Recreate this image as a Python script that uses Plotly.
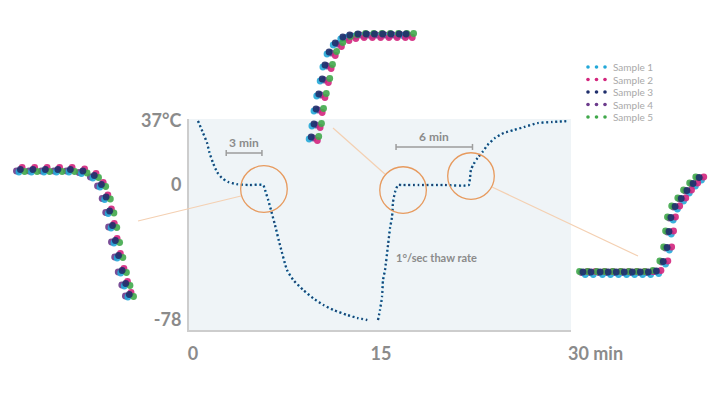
import plotly.graph_objects as go

W, H = 715, 394


def px(x):
    return x / W


def py(y):
    return 1 - y / H


# ---------------- data ----------------
samples = ["Sample 1", "Sample 2", "Sample 3", "Sample 4", "Sample 5"]
sample_colors = ["#23a8d8", "#d3257d", "#1f2f6c", "#6c3b8c", "#40a84b"]

# main curve: freezing phase (time in min, temperature in °C)
cool_t = [0.4, 0.8, 1.12, 1.3, 1.6, 1.92, 2.3, 2.8, 3.5, 4.5, 5.6, 5.75, 6.0, 6.22,
          6.54, 6.94, 7.5, 8.0, 8.8, 9.6, 10.4, 11.2, 12.3, 13.1, 13.9]
cool_T = [37, 30.1, 24.3, 19, 12.7, 7.5, 4.1, 1.8, 0.5, 0, 0, -2.9, -8.7, -14.4,
          -23.1, -34.7, -49.1, -54.9, -60.7, -65.5, -69.3, -72.2, -75.1, -76.8, -78]

# main curve: thawing phase
thaw_t = [14.76, 14.92, 15.08, 15.16, 15.32, 15.56, 15.72, 15.88, 15.96, 16.12, 16.36,
          16.68, 18, 20, 22.0, 22.1, 22.18, 22.4, 22.7, 23.1, 23.5, 24.1, 24.8, 25.6,
          26.4, 27.5, 28.6, 30.0]
thaw_T = [-78, -72.2, -64.7, -54.9, -49.1, -34.7, -24.8, -18.5, -9.8, -4.0, 0,
          0, 0, 0, 0, 4.0, 9.0, 12.2, 15.6, 19.1, 23.1, 27.2, 30.1, 31.8,
          33.5, 35.8, 36.4, 37]

y_tick_vals = [37, 0, -78]
y_tick_text = ["37°C", "0", "-78"]
x_tick_vals = [0, 15]
x_tick_text = ["0", "15"]
x_end_val = 30
x_end_text = "30 min"

# highlighted (zoomed) regions on the main curve
zoom_t = [5.66, 16.76, 22.18]
zoom_T = [-2.3, -2.9, 5.2]

# duration brackets
phase_start = [2.65, 16.2]
phase_end = [5.5, 22.3]
phase_level = [18.5, 22.0]
phase_text = ["3 min", "6 min"]

thaw_note = "1°/sec thaw rate"
thaw_note_t, thaw_note_T = 19.4, -41.6

# zoom inset 1 (onset of freezing)
left_t = [3.95, 4.3, 4.65, 5.0, 5.35, 5.7, 6.02, 6.22, 6.35, 6.45, 6.53, 6.61, 6.7,
          6.8, 6.9, 7.0]
left_T = [0, 0, 0, 0, 0, -0.3, -1.2, -3.0, -5.5, -8.3, -11.2, -14.2, -17.2,
          -20.2, -22.8, -25]
left_lag = [-0.04, 0.05, 0.0, -0.11, 0.12]
left_off = [-0.4, 0.5, 0.1, -0.2, -0.3]

# zoom inset 2 (end of fast thaw)
top_t = [15.42, 15.46, 15.49, 15.53, 15.58, 15.62, 15.68, 15.77, 15.88, 15.98, 16.1,
         16.22, 16.34, 16.46, 16.58, 16.7, 16.8]
top_T = [-20.6, -18, -15, -12, -9, -6.2, -3.6, -1.8, -0.6, -0.2, 0, 0, 0, 0, 0, 0, 0]
top_lag = [-0.06, 0.06, -0.03, 0.0, 0.08]
top_off = [-0.2, -0.5, 0.2, 0.0, 0.3]

# zoom inset 3 (final warming)
right_t = [20.33, 20.54, 20.78, 20.99, 21.2, 21.41, 21.62, 21.83, 22.04, 22.25, 22.43,
           22.53, 22.58, 22.63, 22.74, 22.9, 23.05, 23.21, 23.37]
right_T = [0, 0, 0, 0, 0, 0, 0, 0, 0, 0.2, 2.1, 4.9, 8.1, 10.9, 13.1, 14.7, 16.3,
           17.7, 18.9]
right_lag = [0.06, 0.12, 0.0, -0.04, -0.09]
right_off = [-0.4, 0.2, 0.1, 0.0, 0.2]

# ---------------- figure ----------------
GRAY = "#8b8b8b"
FONT = "Lato"
fig = go.Figure()

curve_color = "#2a3966"
for tt, TT in ((cool_t, cool_T), (thaw_t, thaw_T)):
    fig.add_trace(go.Scatter(
        x=tt, y=TT, mode="lines", xaxis="x", yaxis="y", showlegend=False,
        line=dict(color=sample_colors[0], width=2.4, dash="2px,2.6px",
                  shape="spline", smoothing=0.5),
        cliponaxis=False, hoverinfo="skip"))
    fig.add_trace(go.Scatter(
        x=tt, y=TT, mode="lines", xaxis="x", yaxis="y", showlegend=False,
        line=dict(color=curve_color, width=2.0, dash="1.6px,3px",
                  shape="spline", smoothing=0.5),
        cliponaxis=False, hoverinfo="skip"))

draw_order = [3, 0, 1, 4, 2]
insets = [
    (left_t, left_T, left_lag, left_off, "x2", "y2"),
    (top_t, top_T, top_lag, top_off, "x3", "y3"),
    (right_t, right_T, right_lag, right_off, "x4", "y4"),
]
for tt, TT, lag, off, xa, ya in insets:
    for s in draw_order:
        fig.add_trace(go.Scatter(
            x=[v + lag[s] for v in tt], y=[v + off[s] for v in TT],
            mode="markers", xaxis=xa, yaxis=ya, showlegend=False, name=samples[s],
            marker=dict(color=sample_colors[s], size=6.8, opacity=0.9, line=dict(width=0)),
            cliponaxis=False))

annotations = []
# custom legend (three dots + label per sample)
for i, (name, c) in enumerate(zip(samples, sample_colors)):
    fig.add_trace(go.Scatter(
        x=[0, 1, 2], y=[i, i, i], mode="markers", xaxis="x5", yaxis="y5",
        marker=dict(color=c, size=3.6), showlegend=False, cliponaxis=False,
        hoverinfo="skip", name=name))
    annotations.append(dict(x=2, y=i, xref="x5", yref="y5", text=name, showarrow=False,
                            xanchor="left", yanchor="middle", xshift=6,
                            font=dict(family=FONT, size=10, color="#a9a9a9")))

shapes = []
shapes.append(dict(type="rect", xref="x domain", yref="y domain", x0=0, x1=1, y0=0, y1=1,
                   fillcolor="#eff4f7", line=dict(width=0), layer="below"))
conn = "#f4d0b2"
for (a, b), (c, d) in [((241, 196), (138, 221)), ((386, 175), (333, 128)),
                       ((492, 187), (638, 256))]:
    shapes.append(dict(type="line", xref="paper", yref="paper", x0=px(a), y0=py(b),
                       x1=px(c), y1=py(d), line=dict(color=conn, width=1.2)))
for tx, ty in zip(zoom_t, zoom_T):
    shapes.append(dict(type="circle", xref="x", yref="y", xsizemode="pixel",
                       ysizemode="pixel", xanchor=tx, yanchor=ty, x0=-23.3, x1=23.3,
                       y0=-23.3, y1=23.3, line=dict(color="#e79a5e", width=1.3)))
bc = "#9d9d9d"
for s0, s1, lv, txt in zip(phase_start, phase_end, phase_level, phase_text):
    shapes.append(dict(type="line", xref="x", yref="y", x0=s0, x1=s1, y0=lv, y1=lv,
                       line=dict(color=bc, width=1.5)))
    for sx in (s0, s1):
        shapes.append(dict(type="line", xref="x", yref="y", ysizemode="pixel",
                           yanchor=lv, x0=sx, x1=sx, y0=-3, y1=3,
                           line=dict(color=bc, width=1.5)))
    annotations.append(dict(x=(s0 + s1) / 2, y=lv, xref="x", yref="y", text=txt,
                            showarrow=False, yanchor="bottom", yshift=1,
                            font=dict(family=FONT, size=12, color=GRAY, weight="bold")))

annotations.append(dict(x=thaw_note_t, y=thaw_note_T, xref="x", yref="y", text=thaw_note,
                        showarrow=False, xanchor="center", yanchor="middle",
                        font=dict(family=FONT, size=11, color=GRAY, weight="bold")))
annotations.append(dict(x=x_end_val, y=py(353), xref="x", yref="paper", text=x_end_text,
                        showarrow=False, xanchor="left", yanchor="middle", xshift=-3,
                        font=dict(family=FONT, size=18, color=GRAY, weight="bold")))

tickfont = dict(family=FONT, size=18, color=GRAY, weight="bold")
hidden = dict(visible=False, showgrid=False, zeroline=False, fixedrange=True)

fig.update_layout(
    width=W, height=H, margin=dict(l=0, r=0, t=0, b=0, autoexpand=False),
    paper_bgcolor="white", plot_bgcolor="rgba(0,0,0,0)",
    showlegend=False, shapes=shapes, annotations=annotations,
    xaxis=dict(domain=[px(189), px(571)], range=[-0.32, 30.16], tickvals=x_tick_vals,
               ticktext=x_tick_text, showline=True, linecolor="#cdcdcd", linewidth=2,
               showgrid=False, zeroline=False, ticks="", tickfont=tickfont,
               ticklabelstandoff=6, anchor="y"),
    yaxis=dict(domain=[py(330), py(119)], range=[-83.78, 38.16], tickvals=y_tick_vals,
               ticktext=y_tick_text, showline=True, linecolor="#cdcdcd", linewidth=2,
               showgrid=False, zeroline=False, ticks="", tickfont=tickfont,
               ticklabelstandoff=2, anchor="x"),
    xaxis2=dict(domain=[px(15), px(140)], range=[3.8, 7.3], anchor="y2", **hidden),
    yaxis2=dict(domain=[py(300), py(165)], range=[-26, 1], anchor="x2", **hidden),
    xaxis3=dict(domain=[px(305), px(415)], range=[15.3, 16.9], anchor="y3", **hidden),
    yaxis3=dict(domain=[py(145), py(30)], range=[-22, 1], anchor="x3", **hidden),
    xaxis4=dict(domain=[px(578), px(708)], range=[20.2, 23.6], anchor="y4", **hidden),
    yaxis4=dict(domain=[py(280), py(170)], range=[-1.5, 20.5], anchor="x4", **hidden),
    xaxis5=dict(domain=[px(580), px(680)], range=[-0.94, 10.82], anchor="y5", **hidden),
    yaxis5=dict(domain=[py(124), py(60)], range=[4.56, -0.56], anchor="x5", **hidden),
)

fig.write_html("out.html")
